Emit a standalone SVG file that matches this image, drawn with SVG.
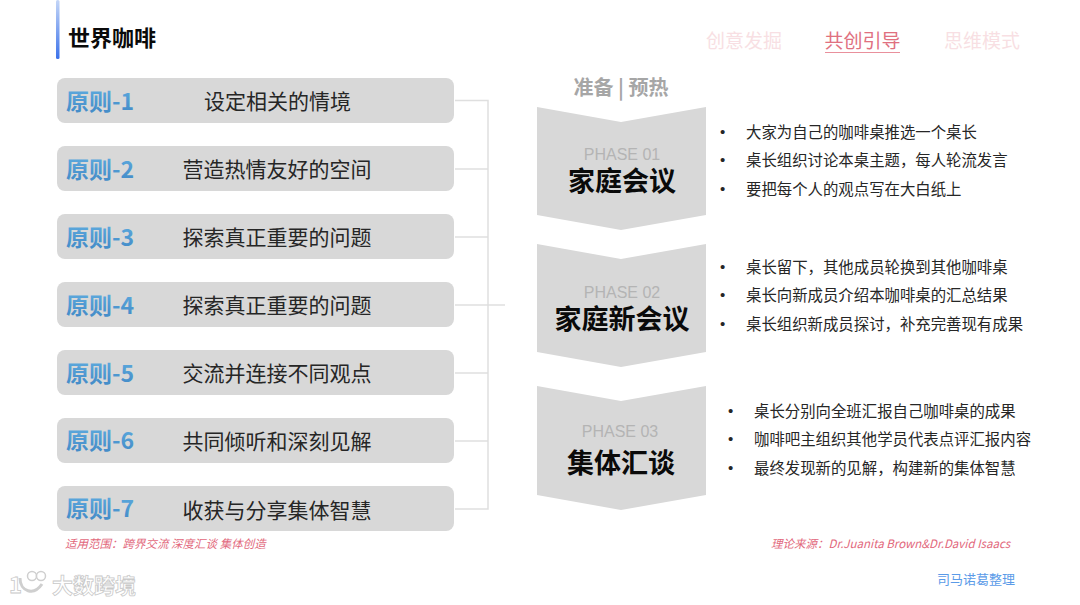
<svg xmlns="http://www.w3.org/2000/svg" width="1080" height="605" viewBox="0 0 1080 605">
<style>
text{font-family:"Noto Sans CJK SC","Liberation Sans",sans-serif}
.bar{fill:#d8d8d8}
.plabel{font-size:23px;font-weight:700;fill:url(#pg);font-family:"Noto Sans CJK SC","Liberation Sans",sans-serif}
.ptext{font-size:21px;fill:#262626;text-anchor:middle}
.conn{fill:none;stroke:#dfdfdf;stroke-width:1.5}
.chev{fill:#d8d8d8}
.ph{font-size:16px;fill:#b4b4b4;text-anchor:middle;font-family:"Liberation Sans",Arial,sans-serif}
.pt{font-size:27px;font-weight:700;fill:#0a0a0a;text-anchor:middle}
.bl{font-size:15.4px;fill:#262626}
.dot{font-size:15px;fill:#262626;font-family:"Liberation Sans",sans-serif}
.nav{font-size:19px;text-anchor:middle}
.note{font-size:11.5px;fill:#e2687c;font-style:italic}
</style>
<defs>
<linearGradient id="pg" x1="0" y1="0" x2="0" y2="1"><stop offset="0" stop-color="#62b0e2"/><stop offset="1" stop-color="#3f86c4"/></linearGradient>
<linearGradient id="accent" x1="0" y1="0" x2="0" y2="1"><stop offset="0" stop-color="#c4d6f7"/><stop offset="1" stop-color="#3c72ea"/></linearGradient>
</defs>
<rect width="1080" height="605" fill="#fff"/>
<g id="header">
<rect x="56" y="0" width="3.5" height="59" rx="1.5" fill="url(#accent)"/>
<text x="68" y="46" font-size="22" font-weight="700" fill="#0a0a0a">世界咖啡</text>
<text class="nav" x="744" y="48" fill="#f8dfe3">创意发掘</text>
<text class="nav" x="862.500" y="48" fill="#e0707f">共创引导</text>
<line x1="825" y1="52.500" x2="900" y2="52.500" stroke="#e9909c" stroke-width="1"/>
<text class="nav" x="982" y="48" fill="#f8dfe3">思维模式</text>
</g>
<g id="connectors">
<path class="conn" d="M455 100.500H488V509H455M455 169H488M455 237H488M455 305H488M455 373H488M455 441H488M488 305H505"/>
</g>
<g id="principle-1"><rect class="bar" x="57" y="78" width="397" height="45" rx="8"/><text class="plabel" x="66" y="110">原则-1</text><text class="ptext" x="277.500" y="109">设定相关的情境</text></g>
<g id="principle-2"><rect class="bar" x="57" y="146" width="397" height="45" rx="8"/><text class="plabel" x="66" y="178">原则-2</text><text class="ptext" x="277" y="177">营造热情友好的空间</text></g>
<g id="principle-3"><rect class="bar" x="57" y="214" width="397" height="45" rx="8"/><text class="plabel" x="66" y="246">原则-3</text><text class="ptext" x="277" y="245">探索真正重要的问题</text></g>
<g id="principle-4"><rect class="bar" x="57" y="282" width="397" height="45" rx="8"/><text class="plabel" x="66" y="314">原则-4</text><text class="ptext" x="277" y="313">探索真正重要的问题</text></g>
<g id="principle-5"><rect class="bar" x="57" y="350" width="397" height="45" rx="8"/><text class="plabel" x="66" y="382">原则-5</text><text class="ptext" x="277" y="381">交流并连接不同观点</text></g>
<g id="principle-6"><rect class="bar" x="57" y="418" width="397" height="45" rx="8"/><text class="plabel" x="66" y="449">原则-6</text><text class="ptext" x="277" y="449">共同倾听和深刻见解</text></g>
<g id="principle-7"><rect class="bar" x="57" y="486" width="397" height="45" rx="8"/><text class="plabel" x="66" y="517">原则-7</text><text class="ptext" x="277" y="518">收获与分享集体智慧</text></g>
<text x="621" y="95" font-size="20" font-weight="700" fill="#a6a6a6" text-anchor="middle">准备 | 预热</text>
<g id="phase-1"><path class="chev" d="M537 107L621 122L706 107V215L621 230L537 215Z"/><text class="ph" x="622" y="160">PHASE 01</text><text class="pt" x="622" y="191">家庭会议</text>
<text class="dot" x="720" y="137">•</text><text class="bl" x="746" y="138">大家为自己的咖啡桌推选一个桌长</text>
<text class="dot" x="720" y="165">•</text><text class="bl" x="746" y="166">桌长组织讨论本桌主题，每人轮流发言</text>
<text class="dot" x="720" y="194">•</text><text class="bl" x="746" y="195">要把每个人的观点写在大白纸上</text></g>
<g id="phase-2"><path class="chev" d="M537 244L621 259L706 244V352L621 367L537 352Z"/><text class="ph" x="622" y="298">PHASE 02</text><text class="pt" x="622" y="329">家庭新会议</text>
<text class="dot" x="720" y="272">•</text><text class="bl" x="746" y="273">桌长留下，其他成员轮换到其他咖啡桌</text>
<text class="dot" x="720" y="300">•</text><text class="bl" x="746" y="301">桌长向新成员介绍本咖啡桌的汇总结果</text>
<text class="dot" x="720" y="329">•</text><text class="bl" x="746" y="330">桌长组织新成员探讨，补充完善现有成果</text></g>
<g id="phase-3"><path class="chev" d="M537 386L621 401L706 386V495L621 510L537 495Z"/><text class="ph" x="620" y="437">PHASE 03</text><text class="pt" x="621" y="473">集体汇谈</text>
<text class="dot" x="728" y="416">•</text><text class="bl" x="754" y="417">桌长分别向全班汇报自己咖啡桌的成果</text>
<text class="dot" x="728" y="444">•</text><text class="bl" x="754" y="445">咖啡吧主组织其他学员代表点评汇报内容</text>
<text class="dot" x="728" y="473">•</text><text class="bl" x="754" y="474">最终发现新的见解，构建新的集体智慧</text></g>
<g id="footer">
<text class="note" x="65" y="548">适用范围：跨界交流 深度汇谈 集体创造</text>
<text class="note" x="771" y="548">理论来源：Dr.Juanita Brown&amp;Dr.David Isaacs</text>
<text x="937" y="584" font-size="13" fill="#5b9be8">司马诺葛整理</text>
<text x="52" y="593" font-size="21" font-weight="700" fill="#fff" stroke="#c9c9c9" stroke-width="0.8">大数跨境</text>
<text x="9" y="593" font-size="22" font-weight="700" fill="#fff" stroke="#c9c9c9" stroke-width="0.8" font-family="Liberation Sans">1</text>
<path d="M20 578C20 592 34 596 42 584" fill="none" stroke="#cfcfcf" stroke-width="3"/>
<circle cx="32" cy="576" r="4.500" fill="#fff" stroke="#cfcfcf" stroke-width="1.500"/><circle cx="41" cy="576" r="4.500" fill="#fff" stroke="#cfcfcf" stroke-width="1.500"/>
</g>
</svg>
